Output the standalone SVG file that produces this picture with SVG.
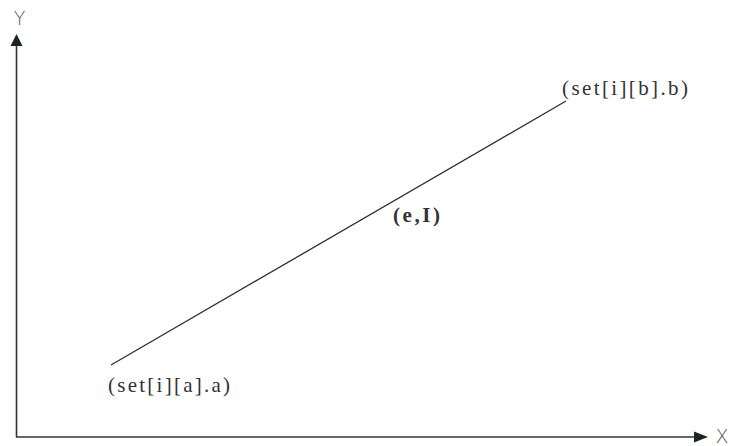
<svg xmlns="http://www.w3.org/2000/svg" width="732" height="446" viewBox="0 0 732 446">
<style>
.ax{stroke:#2f3535;stroke-width:1.6;fill:none}
.hd{fill:#1e2424}
.al{font-family:"DejaVu Sans","Liberation Sans",sans-serif;font-size:19px;fill:#555;font-weight:300}
.lb{font-family:"Liberation Serif",serif;font-size:21px;fill:#333}
</style>
<g id="connectors">
<line class="ax" x1="16.5" y1="44" x2="16.5" y2="437"/>
<polygon class="hd" points="16.5,34 10.5,46 22.5,46"/>
<line class="ax" x1="16" y1="437" x2="695" y2="437"/>
<polygon class="hd" points="708,437 694,431.5 694,442.5"/>
<line x1="111" y1="365" x2="566" y2="101" stroke="#2a2f2f" stroke-width="1.3"/>
</g>
<g id="axis-y"><text class="al" x="19.5" y="25" text-anchor="middle">Y</text></g>
<g id="axis-x"><text class="al" x="722" y="443" text-anchor="middle" font-size="15">X</text></g>
<g id="point-b"><text class="lb" x="562" y="95" textLength="126" lengthAdjust="spacing">(set[i][b].b)</text></g>
<g id="point-a"><text class="lb" x="108" y="392" textLength="122" lengthAdjust="spacing">(set[i][a].a)</text></g>
<g id="point-e"><text class="lb" x="393" y="222" font-weight="bold" textLength="47" lengthAdjust="spacing">(e,I)</text></g>
</svg>
